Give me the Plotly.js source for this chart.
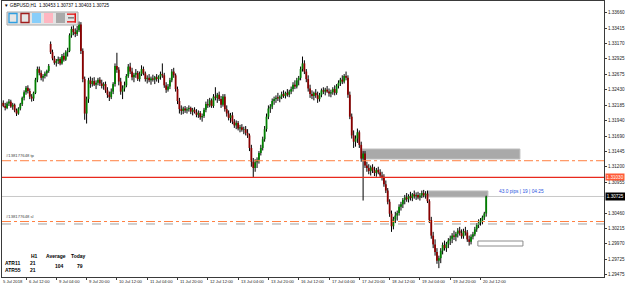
<!DOCTYPE html>
<html><head><meta charset="utf-8">
<script src="https://cdn.plot.ly/plotly-3.0.1.min.js"></script>
<style>html,body{margin:0;padding:0;background:#fff}#c{width:625px;height:286px}</style>
</head><body><div id="c"></div>
<script>
// ---- data: GBPUSD H1 candles (bar index counts trading hours from 5 Jul 2018 00:00) ----
const firstBar = 22;
const open = [
1.3222,1.3219,1.3222,1.3217,1.3214,1.3221,1.3224,1.3216,1.3219,1.3210,
1.3205,1.3213,1.3220,1.3230,1.3239,1.3246,1.3241,1.3232,1.3229,1.3238,
1.3259,1.3276,1.3270,1.3262,1.3265,1.3269,1.3273,1.3316,1.3303,1.3293,
1.3286,1.3289,1.3292,1.3285,1.3297,1.3291,1.3303,1.3305,1.3330,1.3340,
1.3335,1.3332,1.3338,1.3347,1.3305,1.3260,1.3205,1.3228,1.3258,1.3252,
1.3257,1.3251,1.3254,1.3259,1.3253,1.3249,1.3252,1.3242,1.3235,1.3231,
1.3240,1.3252,1.3281,1.3275,1.3256,1.3240,1.3245,1.3250,1.3265,1.3280,
1.3272,1.3263,1.3267,1.3270,1.3260,1.3268,1.3276,1.3269,1.3260,1.3262,
1.3258,1.3261,1.3259,1.3263,1.3260,1.3264,1.3268,1.3266,1.3250,1.3243,
1.3248,1.3258,1.3272,1.3266,1.3244,1.3225,1.3212,1.3209,1.3213,1.3210,
1.3212,1.3214,1.3208,1.3211,1.3207,1.3203,1.3206,1.3199,1.3201,1.3211,
1.3220,1.3218,1.3226,1.3217,1.3232,1.3230,1.3235,1.3228,1.3219,1.3232,
1.3212,1.3205,1.3198,1.3202,1.3192,1.3186,1.3190,1.3181,1.3183,1.3179,
1.3180,1.3174,1.3170,1.3150,1.3128,1.3118,1.3127,1.3131,1.3142,1.3150,
1.3164,1.3180,1.3200,1.3213,1.3216,1.3225,1.3228,1.3231,1.3229,1.3232,
1.3236,1.3233,1.3238,1.3235,1.3240,1.3244,1.3251,1.3248,1.3258,1.3262,
1.3276,1.3285,1.3272,1.3260,1.3245,1.3236,1.3233,1.3238,1.3234,1.3228,
1.3235,1.3242,1.3240,1.3243,1.3240,1.3237,1.3239,1.3244,1.3238,1.3249,
1.3254,1.3259,1.3256,1.3265,1.3262,1.3235,1.3200,1.3170,1.3160,1.3165,
1.3175,1.3155,1.3133,1.3141,1.3122,1.3118,1.3113,1.3119,1.3114,1.3110,
1.3115,1.3111,1.3106,1.3104,1.3092,1.3082,1.3064,1.3045,1.3025,1.3036,
1.3042,1.3046,1.3056,1.3060,1.3067,1.3071,1.3068,1.3073,1.3070,1.3076,
1.3073,1.3075,1.3071,1.3074,1.3078,1.3074,1.3077,1.3065,1.3035,1.3010,
1.2996,1.2984,1.2970,1.2974,1.2986,1.2995,1.2990,1.2997,1.3002,1.3005,
1.3010,1.3008,1.3013,1.3018,1.3014,
1.3009,1.3017,1.3015,1.3004,1.3000,1.3008,1.3012,1.3020,1.3027,1.3031,1.3034,1.3039,1.30453];
const high = [
1.3227,1.3225,1.3226,1.3222,1.3224,1.3228,1.3227,1.3222,1.3221,1.3213,
1.3215,1.3222,1.3232,1.3242,1.3249,1.3250,1.3245,1.3236,1.3240,1.3262,
1.3280,1.3280,1.3274,1.3268,1.3272,1.3275,1.3284,1.3320,1.3307,1.3297,
1.3292,1.3296,1.3295,1.3300,1.3302,1.3306,1.3310,1.3333,1.3344,1.3346,
1.3341,1.3345,1.3352,1.3351,1.3309,1.3264,1.3232,1.3262,1.3264,1.3262,
1.3263,1.3258,1.3262,1.3263,1.3259,1.3255,1.3256,1.3247,1.3240,1.3245,
1.3255,1.3285,1.3302,1.3279,1.3262,1.3250,1.3256,1.3268,1.3284,1.3286,
1.3278,1.3270,1.3276,1.3273,1.3272,1.3282,1.3280,1.3272,1.3266,1.3268,
1.3264,1.3267,1.3265,1.3268,1.3266,1.3272,1.3285,1.3270,1.3255,1.3252,
1.3262,1.3276,1.3278,1.3269,1.3248,1.3230,1.3218,1.3216,1.3217,1.3215,
1.3218,1.3216,1.3214,1.3215,1.3212,1.3210,1.3209,1.3205,1.3214,1.3224,
1.3228,1.3230,1.3229,1.3236,1.3247,1.3238,1.3240,1.3233,1.3236,1.3236,
1.3218,1.3210,1.3206,1.3207,1.3196,1.3194,1.3193,1.3187,1.3188,1.3184,
1.3185,1.3180,1.3173,1.3155,1.3134,1.3132,1.3135,1.3145,1.3155,1.3168,
1.3185,1.3205,1.3218,1.3220,1.3229,1.3232,1.3234,1.3238,1.3234,1.3240,
1.3242,1.3240,1.3244,1.3243,1.3248,1.3255,1.3258,1.3262,1.3265,1.3280,
1.3296,1.3290,1.3276,1.3266,1.3251,1.3242,1.3240,1.3244,1.3240,1.3238,
1.3245,1.3247,1.3246,1.3249,1.3245,1.3243,1.3247,1.3250,1.3252,1.3258,
1.3262,1.3266,1.3268,1.3272,1.3266,1.3240,1.3205,1.3178,1.3170,1.3181,
1.3178,1.3160,1.3145,1.3145,1.3128,1.3124,1.3122,1.3124,1.3120,1.3118,
1.3120,1.3116,1.3112,1.3108,1.3098,1.3086,1.3068,1.3050,1.3040,1.3048,
1.3050,1.3060,1.3064,1.3070,1.3075,1.3078,1.3076,1.3080,1.3078,1.3082,
1.3079,1.3080,1.3078,1.3082,1.3083,1.3081,1.3082,1.3068,1.3040,1.3016,
1.3004,1.2990,1.2978,1.2990,1.2999,1.3002,1.3000,1.3006,1.3010,1.3014,
1.3018,1.3016,1.3022,1.3024,1.3020,
1.3021,1.3024,1.3019,1.3010,1.3012,1.3016,1.3024,1.3030,1.3036,1.3038,1.3042,1.3048,1.30737];
const low = [
1.3216,1.3213,1.3215,1.3210,1.3212,1.3217,1.3214,1.3211,1.3207,1.3201,
1.3203,1.3210,1.3217,1.3226,1.3235,1.3237,1.3228,1.3224,1.3225,1.3236,
1.3255,1.3266,1.3258,1.3256,1.3261,1.3264,1.3270,1.3300,1.3290,1.3283,
1.3280,1.3284,1.3282,1.3283,1.3288,1.3289,1.3296,1.3303,1.3326,1.3330,
1.3327,1.3329,1.3335,1.3300,1.3255,1.3195,1.3189,1.3222,1.3246,1.3248,
1.3249,1.3244,1.3250,1.3249,1.3245,1.3243,1.3238,1.3230,1.3225,1.3228,
1.3236,1.3248,1.3270,1.3250,1.3235,1.3228,1.3240,1.3247,1.3262,1.3268,
1.3258,1.3255,1.3262,1.3257,1.3256,1.3265,1.3266,1.3256,1.3253,1.3255,
1.3251,1.3256,1.3252,1.3256,1.3254,1.3259,1.3262,1.3246,1.3238,1.3240,
1.3244,1.3255,1.3262,1.3240,1.3220,1.3205,1.3203,1.3204,1.3206,1.3205,
1.3208,1.3204,1.3202,1.3205,1.3199,1.3198,1.3195,1.3192,1.3198,1.3207,
1.3214,1.3215,1.3214,1.3214,1.3226,1.3222,1.3225,1.3214,1.3216,1.3208,
1.3200,1.3194,1.3190,1.3188,1.3182,1.3180,1.3178,1.3175,1.3176,1.3172,
1.3170,1.3166,1.3145,1.3120,1.3103,1.3112,1.3118,1.3125,1.3138,1.3146,
1.3160,1.3176,1.3196,1.3206,1.3212,1.3219,1.3222,1.3225,1.3223,1.3228,
1.3230,1.3229,1.3232,1.3231,1.3236,1.3240,1.3244,1.3245,1.3250,1.3258,
1.3272,1.3268,1.3255,1.3240,1.3230,1.3228,1.3226,1.3230,1.3222,1.3224,
1.3231,1.3236,1.3234,1.3238,1.3232,1.3231,1.3235,1.3234,1.3235,1.3245,
1.3249,1.3252,1.3253,1.3258,1.3230,1.3196,1.3165,1.3150,1.3152,1.3158,
1.3150,1.3128,1.3066,1.3118,1.3112,1.3108,1.3106,1.3110,1.3105,1.3104,
1.3108,1.3102,1.3098,1.3088,1.3078,1.3060,1.3040,1.3016,1.3020,1.3030,
1.3034,1.3042,1.3050,1.3054,1.3060,1.3064,1.3063,1.3066,1.3065,1.3069,
1.3067,1.3068,1.3066,1.3070,1.3071,1.3069,1.3062,1.3030,1.3005,1.2990,
1.2978,1.2965,1.2958,1.2966,1.2980,1.2986,1.2984,1.2990,1.2995,1.2998,
1.3003,1.3001,1.3007,1.3010,1.3005,
1.3005,1.3010,1.3000,1.2994,1.2996,1.3004,1.3009,1.3016,1.3022,1.3026,1.3028,1.3035,1.30403];
const close = [
1.3219,1.3222,1.3217,1.3214,1.3221,1.3224,1.3216,1.3219,1.3210,1.3205,
1.3213,1.3220,1.3230,1.3239,1.3246,1.3241,1.3232,1.3229,1.3238,1.3259,
1.3276,1.3270,1.3262,1.3265,1.3269,1.3273,1.3281,1.3303,1.3293,1.3286,
1.3289,1.3292,1.3285,1.3297,1.3291,1.3303,1.3305,1.3330,1.3340,1.3335,
1.3332,1.3338,1.3347,1.3305,1.3260,1.3205,1.3228,1.3258,1.3252,1.3257,
1.3251,1.3254,1.3259,1.3253,1.3249,1.3252,1.3242,1.3235,1.3231,1.3240,
1.3252,1.3281,1.3275,1.3256,1.3240,1.3245,1.3250,1.3265,1.3280,1.3272,
1.3263,1.3267,1.3270,1.3260,1.3268,1.3276,1.3269,1.3260,1.3262,1.3258,
1.3261,1.3259,1.3263,1.3260,1.3264,1.3268,1.3266,1.3250,1.3243,1.3248,
1.3258,1.3272,1.3266,1.3244,1.3225,1.3212,1.3209,1.3213,1.3210,1.3212,
1.3214,1.3208,1.3211,1.3207,1.3203,1.3206,1.3199,1.3201,1.3211,1.3220,
1.3218,1.3226,1.3217,1.3232,1.3230,1.3235,1.3228,1.3219,1.3232,1.3212,
1.3205,1.3198,1.3202,1.3192,1.3186,1.3190,1.3181,1.3183,1.3179,1.3180,
1.3174,1.3170,1.3150,1.3128,1.3118,1.3127,1.3131,1.3142,1.3150,1.3164,
1.3180,1.3200,1.3213,1.3216,1.3225,1.3228,1.3230,1.3229,1.3232,1.3236,
1.3233,1.3238,1.3235,1.3240,1.3244,1.3251,1.3248,1.3258,1.3262,1.3276,
1.3285,1.3272,1.3260,1.3245,1.3236,1.3233,1.3238,1.3234,1.3228,1.3235,
1.3242,1.3240,1.3243,1.3240,1.3237,1.3239,1.3244,1.3238,1.3249,1.3254,
1.3259,1.3256,1.3265,1.3262,1.3235,1.3200,1.3170,1.3160,1.3165,1.3175,
1.3155,1.3133,1.3141,1.3122,1.3118,1.3113,1.3119,1.3114,1.3110,1.3115,
1.3111,1.3106,1.3104,1.3092,1.3082,1.3064,1.3045,1.3025,1.3036,1.3042,
1.3046,1.3056,1.3060,1.3067,1.3071,1.3068,1.3073,1.3070,1.3076,1.3073,
1.3075,1.3071,1.3074,1.3078,1.3074,1.3077,1.3065,1.3035,1.3010,1.2996,
1.2984,1.2970,1.2974,1.2986,1.2995,1.2990,1.2997,1.3002,1.3005,1.3010,
1.3008,1.3013,1.3018,1.3014,1.3009,
1.3017,1.3015,1.3004,1.3000,1.3008,1.3012,1.3020,1.3027,1.3031,1.3034,1.3039,1.30453,1.30725];

// time axis labels (bar index of each label) and texts
const xTickBars = [36,52,68,84,100,116,132,148,164,180,196,212,228,244,260,276];
const xTickText = ["6 Jul 12:00","9 Jul 04:00","9 Jul 20:00","10 Jul 12:00","11 Jul 04:00","11 Jul 20:00",
  "12 Jul 12:00","13 Jul 04:00","13 Jul 20:00","16 Jul 12:00","17 Jul 04:00","17 Jul 20:00",
  "18 Jul 12:00","19 Jul 04:00","19 Jul 20:00","20 Jul 12:00"];
const firstDateLabel = "5 Jul 2018";
// price scale labels
const yTickVals = [1.33660,1.33415,1.33170,1.32925,1.32675,1.32430,1.32185,1.31940,1.31690,1.31445,1.31200,1.30955,1.30460,1.30215,1.29970,1.29725,1.29475];
const yTickText = yTickVals.map(v => v.toFixed(5));

// horizontal levels
const tpLevel = 1.31296, entryLevel = 1.31030, slLevel = 1.30325, slLevel2 = 1.30286;
const tpLabel = "#138177648 tp", slLabel = "#138177648 sl";
// zones (start bar, end bar, top, bottom)
const zoneStart = [213.4, 248.2, 274.6];
const zoneEnd = [296.8, 279.9, 298.4];
const zoneTop = [1.31483, 1.30813, 1.30014];
const zoneBottom = [1.31324, 1.30717, 1.29934];
const infoText = "43.0 pips | 19 | 04:25";
const infoBar = 284.5, infoPrice = 1.30800;
const header = "\u25BC GBPUSD,H1  1.30453 1.30737 1.30403 1.30725";
// ATR table
const atrHead = ["H1", "Average", "Today"];
const atrRows = ["ATR11", "ATR55"];
const atrPeriodVals = ["21", "21"];
const atrAverage = "104", atrToday = "79";

// ---- layout helpers ----
const W = 625, H = 286, L = 2, R = 21, T = 1, B = 9;
const pw = W - L - R, ph = H - T - B;
const px2x = p => (p - L) / pw;
const py2y = p => (H - B - p) / ph;
const F = "Liberation Sans, Arial, sans-serif";

const xIdx = open.map((_, i) => firstBar + i);
const bull = '#008000', bear = '#8b0000';
const lastClose = close[close.length - 1];

// candle bodies as vertical segments (scatter layer sits above the wick layer)
function bodies(up) {
  const bx = [], by = [];
  open.forEach((o, i) => {
    const c = close[i];
    if ((c >= o) === up) { bx.push(xIdx[i], xIdx[i], null); by.push(o, c, null); }
  });
  return {type:'scatter', mode:'lines', x:bx, y:by, connectgaps:false,
    line:{color: up ? bull : bear, width:1.8}, hoverinfo:'skip'};
}

const traces = [
  {type:'ohlc', x:xIdx, open:open, high:high, low:low, close:close, tickwidth:0,
   increasing:{line:{color:'#000', width:1}}, decreasing:{line:{color:'#000', width:1}}, hoverinfo:'skip'},
  bodies(true), bodies(false)
];

const shapes = [];
const annotations = [];
// zones
for (let i = 0; i < zoneStart.length; i++) {
  const white = i === 2;
  shapes.push({type:'rect', xref:'x', yref:'y', x0:zoneStart[i], x1:zoneEnd[i], y0:zoneBottom[i], y1:zoneTop[i],
    fillcolor: white ? '#ffffff' : '#a9a9a9', line:{color: white ? '#8c8c8c' : '#bdbdbd', width:1}, layer:'below'});
}
// levels
shapes.push({type:'line', xref:'paper', x0:0, x1:1, yref:'y', y0:lastClose, y1:lastClose, line:{color:'#c8c8c8', width:1}, layer:'below'});
shapes.push({type:'line', xref:'paper', x0:0, x1:1, yref:'y', y0:tpLevel, y1:tpLevel, line:{color:'#ff7f40', width:1, dash:'dashdot'}});
shapes.push({type:'line', xref:'paper', x0:0, x1:1, yref:'y', y0:entryLevel, y1:entryLevel, line:{color:'#e8291c', width:1.4}});
shapes.push({type:'line', xref:'paper', x0:0, x1:1, yref:'y', y0:slLevel, y1:slLevel, line:{color:'#ff7f40', width:1, dash:'dashdot'}});
shapes.push({type:'line', xref:'paper', x0:0, x1:1, yref:'y', y0:slLevel2, y1:slLevel2, line:{color:'#a0a0a0', width:1, dash:'dash'}});

// toolbar (top-left)
const rectPx = (x0, y0, x1, y1, fill, lc, lw) => shapes.push({type:'rect', xref:'paper', yref:'paper',
  x0:px2x(x0), x1:px2x(x1), y0:py2y(y1), y1:py2y(y0), fillcolor:fill, line:{color:lc, width:lw}});
rectPx(7, 12, 78, 25, '#e3e3e3', '#a8a8a8', 1);
rectPx(9, 13.5, 17, 22.5, '#e6e6e6', '#2f9ee0', 1.3);
rectPx(21, 13.5, 29, 22.5, '#e6e6e6', '#a01c1c', 1.3);
rectPx(32, 13, 41, 23, '#87cefa', '#87cefa', 0);
rectPx(44, 13, 53, 23, '#ffb6c1', '#ffb6c1', 0);
rectPx(56, 13, 65, 23, '#a9a9a9', '#a9a9a9', 0);
rectPx(67, 13.5, 76, 14.8, '#e01010', '#e01010', 0);
rectPx(67, 21.2, 76, 22.5, '#e01010', '#e01010', 0);
rectPx(74.5, 13.5, 76, 22.5, '#e01010', '#e01010', 0);
rectPx(68, 17.5, 74, 18.3, '#202020', '#202020', 0);

// header
annotations.push({xref:'paper', yref:'paper', x:px2x(2), y:py2y(5.5), xanchor:'left', yanchor:'middle', text:header,
  showarrow:false, font:{family:F, size:4.6, color:'#000'}});
// x labels
annotations.push({xref:'paper', yref:'paper', x:px2x(1), y:py2y(281.5), xanchor:'left', yanchor:'middle', text:firstDateLabel,
  showarrow:false, font:{family:F, size:4.2, color:'#222'}});
xTickBars.forEach((b, i) => annotations.push({xref:'x', yref:'paper', x:b, y:py2y(281.5), xanchor:'left', yanchor:'middle',
  xshift:0.5, text:xTickText[i], showarrow:false, font:{family:F, size:4.2, color:'#222'}}));
// level labels
annotations.push({xref:'paper', yref:'y', x:px2x(4), y:tpLevel, yanchor:'bottom', xanchor:'left', yshift:0.5, text:tpLabel,
  showarrow:false, font:{family:F, size:4.2, color:'#444'}});
annotations.push({xref:'paper', yref:'y', x:px2x(4), y:slLevel, yanchor:'bottom', xanchor:'left', yshift:0.5, text:slLabel,
  showarrow:false, font:{family:F, size:4.2, color:'#444'}});
// price boxes on the right scale
annotations.push({xref:'paper', yref:'y', x:1, xanchor:'left', xshift:0.5, y:entryLevel, yanchor:'middle', text:entryLevel.toFixed(5),
  showarrow:false, bgcolor:'#ff5a36', borderpad:0.6, font:{family:F, size:4.6, color:'#fff'}});
annotations.push({xref:'paper', yref:'y', x:1, xanchor:'left', xshift:0.5, y:lastClose, yanchor:'middle', text:lastClose.toFixed(5),
  showarrow:false, bgcolor:'#000', borderpad:0.8, font:{family:F, size:4.6, color:'#fff'}});
// info text
annotations.push({xref:'x', yref:'y', x:infoBar, y:infoPrice, xanchor:'left', yanchor:'middle', text:infoText,
  showarrow:false, font:{family:F, size:4.8, color:'#2b54e0'}});
// ATR table
const tf = {family:F, size:5, color:'#000', weight:'bold'};
const txt = (x, y, t, anchor) => annotations.push({xref:'paper', yref:'paper', x:px2x(x), y:py2y(y), xanchor:anchor||'left',
  yanchor:'middle', text:'<b>'+t+'</b>', showarrow:false, font:tf});
txt(29, 256, atrHead[0]); txt(44, 256, atrHead[1]); txt(69, 256, atrHead[2]);
txt(3, 262.5, atrRows[0]); txt(28, 262.5, atrPeriodVals[0]);
txt(3, 270, atrRows[1]); txt(28, 270, atrPeriodVals[1]);
txt(53, 266, atrAverage); txt(75, 266, atrToday);

const layout = {
  width:W, height:H, margin:{l:L, r:R, t:T, b:B, pad:0},
  paper_bgcolor:'#fff', plot_bgcolor:'#fff', showlegend:false,
  xaxis:{range:[23.33, 341.2], showgrid:false, zeroline:false, showline:true, mirror:true, linecolor:'#3a3a3a', linewidth:1,
    tickmode:'array', tickvals:xTickBars, ticks:'outside', ticklen:2, tickcolor:'#3a3a3a', showticklabels:false,
    rangeslider:{visible:false}, fixedrange:true, automargin:false},
  yaxis:{range:[1.29439, 1.33847], side:'right', showgrid:false, zeroline:false, showline:true, mirror:true,
    linecolor:'#3a3a3a', linewidth:1, tickmode:'array', tickvals:yTickVals, ticktext:yTickText, ticks:'outside', ticklen:2,
    tickcolor:'#3a3a3a', tickfont:{family:F, size:4.6, color:'#222'}, fixedrange:true, automargin:false},
  shapes:shapes, annotations:annotations
};
Plotly.newPlot('c', traces, layout, {displayModeBar:false, staticPlot:true});
</script></body></html>
